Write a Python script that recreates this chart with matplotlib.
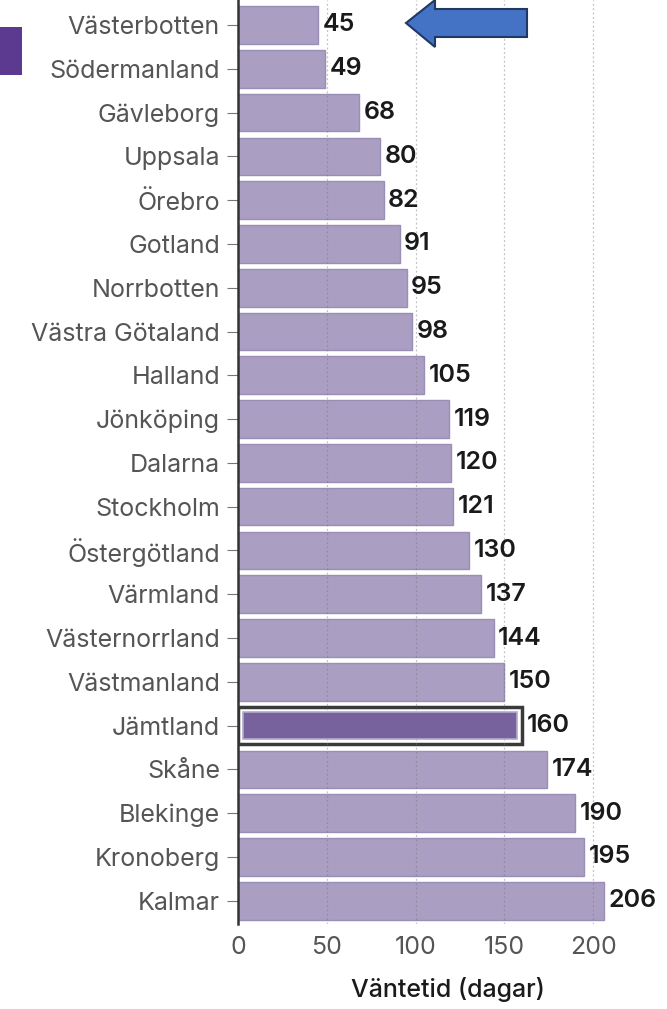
import matplotlib.pyplot as plt
from matplotlib.patches import Rectangle, Polygon

# ---------------------------------------------------------------------------
# Data
# ---------------------------------------------------------------------------
regions = ["Västerbotten", "Södermanland", "Gävleborg", "Uppsala", "Örebro",
           "Gotland", "Norrbotten", "Västra Götaland", "Halland", "Jönköping",
           "Dalarna", "Stockholm", "Östergötland", "Värmland", "Västernorrland",
           "Västmanland", "Jämtland", "Skåne", "Blekinge", "Kronoberg", "Kalmar"]
wait_days = [45, 49, 68, 80, 82, 91, 95, 98, 105, 119, 120, 121, 130, 137,
             144, 150, 160, 174, 190, 195, 206]
highlight = "Jämtland"
x_ticks = [0, 50, 100, 150, 200]

BAR = "#aa9fc2"
BAR_EDGE = "#9a8db6"
BAR_HI = "#77629d"
INK = "#1a1a1a"
TICK = "#555555"
FS = 18

W, H = 667, 1009
plt.rcParams["font.family"] = ["Inter", "DejaVu Sans"]

fig = plt.figure(figsize=(W / 100, H / 100), dpi=100)
fig.patch.set_facecolor("white")
ax = fig.add_axes([238 / W, 1 - 924 / H, 1 - 238 / W, 924 / H])

ypos = list(range(len(regions)))
is_hi = [r == highlight for r in regions]
ax.barh(ypos, wait_days, height=0.86,
        color=["white" if h else BAR for h in is_hi],
        edgecolor=["#3a3a3a" if h else BAR_EDGE for h in is_hi],
        linewidth=[2.5 if h else 1.0 for h in is_hi], zorder=2)

for y, (h, v) in enumerate(zip(is_hi, wait_days)):
    ax.text(v + 2.6, y, str(v), va="center", ha="left", fontsize=FS,
            fontweight="semibold", color=INK, zorder=4)
    if h:
        # inner filled bar inset inside the dark outline
        ax.add_patch(Rectangle((2.6, y - 0.31), v - 5.2, 0.62, facecolor=BAR_HI,
                               edgecolor="#b3a9cb", linewidth=1.2, zorder=3))

ax.set_xlim(0, (W - 238) / 1.775)
ax.set_ylim(20.53, -0.57)
ax.set_yticks(ypos)
ax.set_yticklabels(regions, fontsize=FS, color=TICK)
ax.set_xticks(x_ticks)
ax.set_xticklabels([str(t) for t in x_ticks], fontsize=FS, color=TICK)
ax.tick_params(axis="y", length=8, color="#777777", pad=5)
ax.tick_params(axis="x", length=0, pad=9)
ax.grid(axis="x", color="#777777", alpha=0.45, linestyle=(0, (1.5, 2)),
        linewidth=0.9, zorder=3.5)
ax.set_axisbelow(False)
for s in ["top", "right", "bottom"]:
    ax.spines[s].set_visible(False)
ax.spines["left"].set_color("#333333")
ax.spines["left"].set_linewidth(1.8)
ax.spines["left"].set_zorder(5)
ax.set_xlabel("Väntetid (dagar)", fontsize=FS, fontweight="medium", color=INK)
ax.xaxis.set_label_coords((448 - 238) / (W - 238), -(989 - 924) / 924)
ax.xaxis.label.set_va("center")

# cropped legend swatch at the top-left
fig.patches.append(Rectangle((0, 1 - 75 / H), 22 / W, 48 / H, transform=fig.transFigure,
                             facecolor="#5b3a8f", edgecolor="none"))

# callout arrow pointing at the top bar
arrow_px = [(406, 23), (435, 0), (435, 9), (527, 9), (527, 37), (435, 37), (435, 47)]
fig.patches.append(Polygon([(x / W, 1 - y / H) for x, y in arrow_px], closed=True,
                           transform=fig.transFigure, facecolor="#4472c4",
                           edgecolor="#1f3864", linewidth=1.5))

fig.savefig("out.png", dpi=100)
